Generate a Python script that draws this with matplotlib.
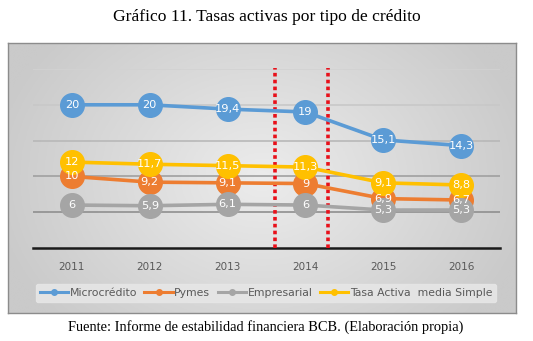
import matplotlib; matplotlib.use('Agg')
import matplotlib.pyplot as plt
from matplotlib.colors import LinearSegmentedColormap
import numpy as np

years = ['2011', '2012', '2013', '2014', '2015', '2016']
micro = [20, 20, 19.4, 19, 15.1, 14.3]
pymes = [10, 9.2, 9.1, 9, 6.9, 6.7]
empresarial = [6, 5.9, 6.1, 6, 5.3, 5.3]
tasa_media = [12, 11.7, 11.5, 11.3, 9.1, 8.8]
names = ['Microcrédito', 'Pymes', 'Empresarial', 'Tasa Activa  media Simple']
colors = ['#5b9bd5', '#ed7d31', '#a5a5a5', '#ffc000']
red_marks = [2.61, 3.29]

W, H = 533, 341
fig = plt.figure(figsize=(W / 100, H / 100), dpi=100)

# grey gradient panel behind the chart
bg = fig.add_axes([8 / W, 1 - 313 / H, 508 / W, 270 / H])
yy, xx = np.mgrid[-1:1:200j, -1:1:300j]
r = np.sqrt(xx**2 * 0.85 + yy**2 * 0.4)
cmap = LinearSegmentedColormap.from_list('g', ['#ececec', '#cacaca'])
bg.imshow(np.clip(r, 0, 1), cmap=cmap, aspect='auto', extent=[0, 1, 0, 1], vmin=0, vmax=1)
bg.set_xlim(0, 1); bg.set_ylim(0, 1)
for s in bg.spines.values():
    s.set_color('#8c8c8c'); s.set_linewidth(1)
bg.set_xticks([]); bg.set_yticks([])

ax = fig.add_axes([33 / W, 1 - 248 / H, 467 / W, 179 / H])
ax.patch.set_alpha(0)
x = np.arange(len(years))
grid_cols = {5: '#8f8f8f', 10: '#a0a0a0', 15: '#b8b8b8', 20: '#c8c8c8', 25: '#d2d2d2'}
for v, c in grid_cols.items():
    ax.axhline(v, color=c, lw=1.2, zorder=1)
ax.axhline(0, color='#1a1a1a', lw=1.8, zorder=2, clip_on=False)

for xv in red_marks:
    ln, = ax.plot([xv, xv], [0, 25.2], color='#e8101a', lw=2.6, ls=(0, (1.0, 0.9)),
                  zorder=3, clip_on=False)
    ln.set_dash_capstyle('butt')

series = [micro, pymes, empresarial, tasa_media]
for vals, c, n in zip(series, colors, names):
    ax.plot(x, vals, color=c, lw=2.6, marker='o', ms=17, mec=c, mfc=c,
            zorder=4, label=n)
    for xi, v in zip(x, vals):
        ax.text(xi, v, f'{v:g}'.replace('.', ','), color='white', fontsize=8.2,
                ha='center', va='center', zorder=6)

ax.set_xlim(-0.5, 5.5)
ax.set_ylim(0, 25)
ax.set_xticks(x)
ax.set_xticklabels(years, color='#595959', fontsize=7.5)
ax.tick_params(axis='x', length=0, pad=10)
ax.set_yticks([])
for s in ax.spines.values():
    s.set_visible(False)

handles = [plt.Line2D([], [], color=c, lw=2.2, marker='o', ms=4) for c in colors]
leg = fig.legend(handles, names, loc='center', bbox_to_anchor=(266 / W, 1 - 293 / H),
                 ncol=4, fontsize=7.8, frameon=True, handlelength=2.6,
                 handletextpad=0.15, columnspacing=0.7, borderpad=0.35)
leg.get_frame().set_facecolor('#e6e6e6'); leg.get_frame().set_edgecolor('#e6e6e6')
leg.get_frame().set_alpha(0.9)
for t in leg.get_texts():
    t.set_color('#595959')

fig.text(0.5, 1 - 17 / H, 'Gráfico 11. Tasas activas por tipo de crédito',
         family='Liberation Serif', fontsize=12.6, ha='center', va='center')
fig.text(266 / W, 1 - 327 / H, 'Fuente: Informe de estabilidad financiera BCB. (Elaboración propia)',
         family='Liberation Serif', fontsize=10.4, ha='center', va='center')

plt.savefig('out.png', dpi=100)
plt.close()
